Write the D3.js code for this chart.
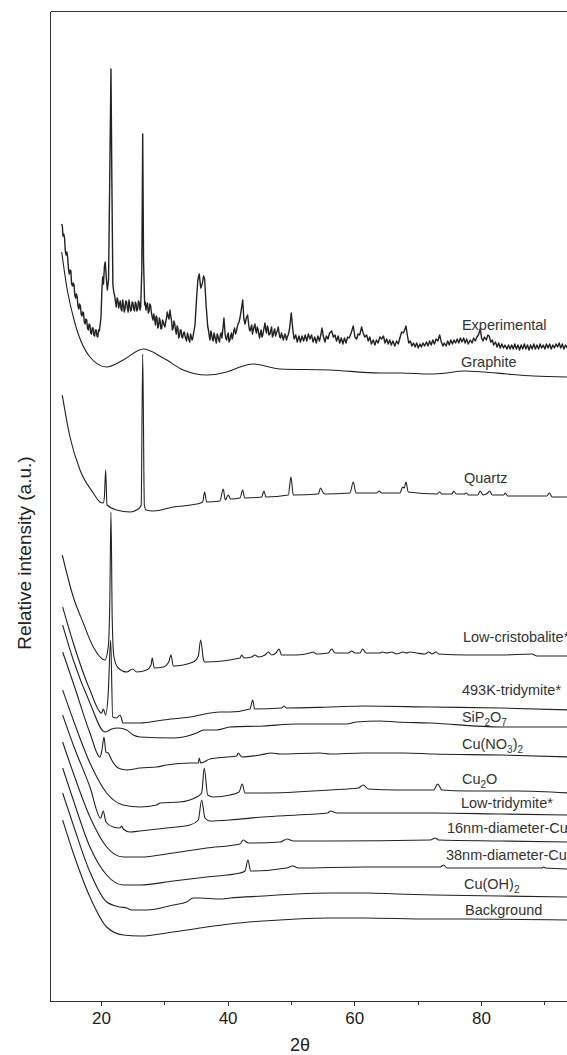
<!DOCTYPE html>
<html>
<head>
<meta charset="utf-8">
<script src="https://cdn.jsdelivr.net/npm/d3@7"></script>
<style>
    body { margin: 0; background: #fff; }
    svg { display: block; }
    .axis path, .axis line { stroke: #333; stroke-width: 1; shape-rendering: crispEdges; }
    .axis text { font-family: "Liberation Sans", Arial, sans-serif; font-size: 17px; fill: #222; }
    .trace { fill: none; stroke: #222; stroke-linejoin: round; }
    .label { font-family: "Liberation Sans", Arial, sans-serif; font-size: 14.5px; fill: #333; }
</style>
</head>
<body>
<script>

// 2theta (deg), relative intensity (a.u.)
const experimental = [
    [13.8,777],[13.9,775],[14.0,765],[14.12,767],[14.25,763],[14.37,750],[14.5,746],[14.62,749],[14.75,743],
    [14.87,732],[15.0,727],[15.12,731],[15.25,730],[15.37,717],[15.5,715],[15.62,718],[15.75,716],[15.87,706],
    [16.0,703],[16.12,707],[16.25,704],[16.37,695],[16.5,692],[16.62,697],[16.75,695],[16.87,687],[17.0,685],
    [17.12,689],[17.25,688],[17.37,679],[17.5,677],[17.62,682],[17.75,681],[17.87,673],[18.0,671],[18.12,677],
    [18.25,676],[18.37,668],[18.5,667],[18.62,673],[18.75,673],[18.87,666],[19.0,665],[19.12,671],[19.25,671],
    [19.37,665],[19.5,664],[19.62,671],[19.75,670],[20.0,683],[20.15,711],[20.27,724],[20.4,717],[20.55,735],
    [20.68,739],[20.85,723],[21.0,711],[21.2,721],[21.4,831],[21.58,932],[21.72,821],[21.88,716],[22.05,708],
    [22.17,705],[22.3,699],[22.42,694],[22.55,703],[22.67,701],[22.8,693],[22.92,697],[23.05,700],[23.17,692],
    [23.3,690],[23.42,701],[23.55,697],[23.67,689],[23.8,692],[23.92,700],[24.05,699],[24.17,693],[24.3,689],
    [24.42,701],[24.55,696],[24.67,690],[24.8,691],[24.92,699],[25.05,698],[25.17,692],[25.3,690],[25.42,699],
    [25.55,697],[25.67,690],[25.8,692],[25.92,700],[26.05,698],[26.16,691],[26.27,694],[26.45,731],[26.59,867],
    [26.72,741],[26.9,696],[27.0,699],[27.1,691],[27.22,695],[27.35,698],[27.47,688],[27.6,690],[27.72,697],
    [27.85,695],[27.97,688],[28.1,684],[28.22,681],[28.35,687],[28.47,682],[28.6,676],[28.72,685],[28.85,683],
    [28.97,673],[29.1,675],[29.22,683],[29.35,680],[29.47,672],[29.6,673],[29.72,681],[29.85,679],[29.97,676],
    [30.1,674],[30.22,679],[30.35,683],[30.47,689],[30.6,685],[30.75,682],[30.9,691],[31.02,685],[31.15,680],
    [31.27,671],[31.4,673],[31.52,680],[31.65,677],[31.77,671],[31.9,667],[32.02,675],[32.15,673],[32.27,663],
    [32.4,665],[32.52,671],[32.65,671],[32.77,664],[32.9,663],[33.02,668],[33.15,669],[33.27,665],[33.4,662],
    [33.52,660],[33.65,668],[33.77,665],[33.9,661],[34.02,659],[34.15,667],[34.27,664],[34.4,661],[34.5,663],
    [34.6,667],[34.85,676],[35.1,703],[35.3,721],[35.52,727],[35.75,713],[35.99,717],[36.2,725],[36.37,722],
    [36.6,696],[36.85,675],[36.97,671],[37.1,665],[37.22,661],[37.35,670],[37.47,667],[37.6,662],[37.72,660],
    [37.85,668],[37.97,665],[38.1,661],[38.22,658],[38.35,667],[38.47,665],[38.6,661],[38.72,659],[38.85,666],
    [38.97,668],[39.1,663],[39.3,675],[39.42,683],[39.6,667],[39.7,663],[39.85,661],[39.97,666],[40.1,668],
    [40.22,659],[40.37,661],[40.47,665],[40.6,668],[40.72,662],[40.85,665],[40.97,670],[41.1,673],[41.25,667],
    [41.4,670],[41.52,674],[41.65,677],[41.8,679],[41.95,683],[42.15,691],[42.38,701],[42.55,683],[42.74,677],
    [42.95,683],[43.16,686],[43.35,675],[43.45,671],[43.55,670],[43.67,673],[43.8,676],[43.92,667],[44.05,671],
    [44.17,674],[44.32,677],[44.42,671],[44.55,668],[44.67,674],[44.8,672],[44.92,667],[45.05,663],[45.17,668],
    [45.3,671],[45.42,664],[45.55,666],[45.72,672],[45.9,678],[46.02,671],[46.15,668],[46.27,675],[46.4,673],
    [46.52,666],[46.69,667],[46.82,671],[46.95,674],[47.07,664],[47.2,666],[47.32,670],[47.45,672],[47.57,665],
    [47.7,668],[47.85,670],[48.0,674],[48.12,668],[48.25,664],[48.37,663],[48.5,668],[48.65,665],[48.79,661],
    [48.92,664],[49.05,667],[49.17,665],[49.3,661],[49.42,664],[49.55,666],[49.67,669],[49.8,673],[50.05,688],
    [50.3,671],[50.5,662],[50.75,666],[51.0,659],[51.25,665],[51.5,659],[51.75,665],[52.0,660],[52.25,666],
    [52.5,660],[52.75,667],[53.0,662],[53.25,666],[53.5,659],[53.75,664],[54.0,658],[54.25,665],[54.5,660],
    [54.75,667],[54.9,673],[55.1,665],[55.37,659],[55.6,665],[55.85,662],[56.1,668],[56.43,670],[56.7,664],
    [56.95,666],[57.2,660],[57.45,665],[57.7,658],[57.95,663],[58.2,657],[58.45,663],[58.7,658],[58.95,664],
    [59.2,663],[59.5,668],[59.84,675],[60.1,664],[60.37,662],[60.6,667],[60.85,666],[61.16,674],[61.4,668],
    [61.65,664],[61.95,666],[62.2,660],[62.45,664],[62.7,657],[62.99,661],[63.25,656],[63.5,661],[63.75,658],
    [64.05,664],[64.32,662],[64.6,665],[64.85,658],[65.1,662],[65.36,657],[65.6,661],[65.85,656],[66.1,660],
    [66.4,655],[66.69,660],[66.95,657],[67.2,663],[67.48,669],[67.75,668],[67.95,671],[68.16,675],[68.4,665],
    [68.6,658],[68.85,660],[69.1,655],[69.35,658],[69.6,654],[69.85,658],[70.1,653],[70.37,657],[70.6,654],
    [70.85,658],[71.1,655],[71.4,659],[71.65,655],[71.9,660],[72.15,656],[72.4,661],[72.65,657],[72.9,662],
    [73.2,660],[73.48,666],[73.7,660],[74.0,655],[74.21,658],[74.5,655],[74.75,660],[75.0,656],[75.25,661],
    [75.5,657],[75.75,661],[76.0,658],[76.25,662],[76.5,658],[76.75,663],[77.0,659],[77.27,663],[77.5,658],
    [77.75,662],[78.0,657],[78.32,661],[78.6,658],[78.85,663],[79.1,660],[79.37,664],[79.6,666],[79.89,672],
    [80.1,663],[80.32,660],[80.55,664],[80.85,661],[81.1,666],[81.3,665],[81.55,659],[81.8,661],[82.0,656],
    [82.3,659],[82.55,654],[82.8,658],[83.05,653],[83.3,657],[83.55,653],[83.8,656],[84.1,652],[84.35,656],
    [84.6,652],[84.85,656],[85.1,652],[85.35,657],[85.6,652],[85.85,656],[86.1,651],[86.35,656],[86.6,652],
    [86.85,657],[87.1,652],[87.35,656],[87.6,651],[87.85,656],[88.1,652],[88.35,657],[88.6,652],[88.85,656],
    [89.1,652],[89.35,657],[89.6,653],[89.85,656],[90.1,652],[90.35,657],[90.6,653],[90.85,657],[91.1,652],
    [91.35,656],[91.6,653],[91.85,657],[92.1,654],[92.35,658],[92.6,653],[92.85,657],[93.1,652],[93.35,656],
    [93.6,653],[93.85,656],[94.1,653]
];

const graphite = [
    [13.8,749],[14.6,714],[15.63,684],[18.26,644],[20.9,634],[23.52,641],[26.68,652],[29.84,643],[33.0,631],
    [36.69,626],[39.85,629],[41.95,634],[44.05,637],[48.27,632],[56.16,631],[64.06,628],[67.26,628],[71.95,627],
    [74.64,628],[77.27,630],[80.43,629],[84.11,627],[88.32,625],[94,624]
];

const quartz = [
    [13.89,606],[15.11,564],[16.69,531],[18.79,508],[19.84,499],[20.37,498],[20.55,505],[20.74,531],[20.95,496],
    [22.48,491],[24.58,489],[25.89,492],[26.35,496],[26.59,647],[26.85,496],[27.11,491],[28.26,490],[31.42,494],
    [35.11,497],[36.06,499],[36.37,509],[36.69,499],[38.79,500],[39.31,512],[39.63,501],[40.1,506],[40.48,502],
    [41.95,503],[42.38,511],[42.69,503],[45.38,504],[45.74,510],[46.05,504],[49.58,506],[50.0,524],[50.37,506],
    [54.31,507],[54.69,513],[55.01,509],[55.37,507],[59.32,508],[59.84,519],[60.27,508],[63.53,508],[63.94,510],
    [64.32,508],[67.21,508],[67.64,514],[67.9,513],[68.16,519],[68.52,509],[73.06,507],[73.48,509],[73.85,507],
    [75.42,507],[75.69,510],[76.1,507],[77.37,507],[77.68,508],[78.06,506],[79.48,506],[79.89,510],[80.32,506],
    [81.06,508],[81.38,510],[81.79,506],[83.59,506],[83.84,508],[84.22,505],[90.42,505],[90.79,508],[91.26,504],
    [94,504]
];

const lowCristobalite = [
    [13.89,446],[15.63,404],[17.21,378],[18.79,354],[20.63,341],[21.15,354],[21.4,401],[21.58,489],[21.78,381],
    [22.05,344],[22.73,333],[24.06,329],[25.01,332],[25.64,329],[27.22,331],[27.9,336],[28.1,343],[28.42,333],
    [29.84,334],[30.7,339],[31.05,346],[31.42,335],[34.58,339],[35.37,345],[35.74,361],[36.2,341],[36.42,339],
    [41.95,343],[42.22,346],[42.58,343],[43.8,344],[44.32,346],[44.84,344],[45.9,346],[46.42,349],[46.96,346],
    [47.63,348],[48.11,352],[48.53,346],[50.9,346],[53.0,348],[53.52,349],[54.06,347],[55.89,348],[56.43,352],
    [56.95,348],[59.05,348],[59.59,350],[60.11,348],[60.9,348],[61.32,352],[61.85,348],[64.06,348],[64.42,349],
    [65.11,348],[65.9,349],[66.69,347],[67.74,349],[68.27,348],[68.79,349],[69.85,348],[71.16,347],[71.74,349],
    [72.27,347],[72.9,349],[73.33,347],[77.79,346],[83.05,346],[88.06,347],[88.85,345],[94,345]
];

const tridymite493K = [
    [13.95,394],[15.63,358],[18.26,311],[20.11,288],[20.37,292],[20.74,286],[21.15,308],[21.53,361],[21.85,284],
    [22.48,283],[23.0,286],[23.52,278],[26.16,278],[29.84,281],[34.05,284],[38.79,289],[40.37,289],[43.53,292],
    [43.96,301],[44.27,292],[48.53,293],[48.9,295],[49.32,293],[56.16,294],[61.42,295],[71.95,294],[83.05,293],
    [94,291]
];

const siP2O7 = [
    [13.95,376],[15.63,341],[18.26,298],[20.63,269],[21.69,272],[22.73,273],[24.06,271],[25.1,266],[26.16,264],
    [31.42,263],[35.11,268],[36.16,271],[38.27,271],[40.37,274],[45.63,275],[50.9,277],[58.8,277],[60.37,279],
    [64.06,280],[66.69,279],[71.95,278],[83.05,274],[94,274]
];

const cuNO32 = [
    [13.95,349],[15.63,318],[18.26,268],[19.84,244],[20.16,251],[20.48,264],[20.78,249],[21.15,248],[21.69,241],
    [22.73,233],[24.06,231],[26.16,233],[28.8,234],[30.37,236],[34.05,238],[35.37,238],[35.52,243],[35.74,238],
    [37.21,242],[39.85,244],[41.43,245],[41.68,248],[42.22,244],[45.11,246],[46.96,248],[48.27,247],[54.58,248],
    [56.16,247],[61.42,248],[67.74,248],[72.53,247],[83.05,246],[94,244]
];

const cu2O = [
    [13.95,311],[15.63,281],[18.26,238],[20.9,208],[23.52,196],[26.16,194],[28.8,196],[29.32,198],[32.47,199],
    [35.11,204],[35.9,208],[36.31,233],[36.85,206],[37.74,204],[40.37,206],[41.8,209],[42.31,217],[42.74,208],
    [45.63,208],[56.16,211],[60.63,213],[61.42,216],[62.21,212],[66.69,211],[72.53,211],[73.17,217],[73.85,211],
    [77.79,210],[85.69,210],[94,208]
];

const lowTridymite = [
    [13.95,286],[15.63,256],[18.26,214],[19.95,183],[20.37,190],[20.78,179],[21.94,174],[23.0,173],[23.27,175],
    [23.52,172],[24.58,169],[26.16,170],[30.37,173],[34.05,176],[35.37,181],[35.9,201],[36.42,183],[37.21,180],
    [40.37,181],[45.63,184],[50.9,186],[55.8,188],[56.27,190],[57.22,188],[61.42,188],[72.53,188],[83.05,187],
    [94,186]
];

const cu16nm = [
    [13.95,259],[15.63,228],[18.26,184],[20.9,154],[23.52,144],[26.16,144],[31.42,148],[36.69,153],[41.95,157],
    [42.47,161],[43.26,158],[48.27,159],[49.42,162],[50.37,160],[56.16,160],[72.0,161],[72.79,163],[73.3,161],
    [83.05,160],[94,159]
];

const cu38nm = [
    [13.95,233],[15.63,201],[18.26,154],[20.9,126],[23.52,116],[26.16,116],[31.42,120],[36.69,124],[41.95,128],
    [42.74,130],[43.21,141],[43.64,130],[49.32,133],[50.27,135],[51.16,133],[61.42,134],[73.58,134],[74.11,136],
    [74.64,133],[89.64,133],[89.9,134],[90.2,133],[94,132]
];

const cuOH2 = [
    [13.95,208],[15.63,176],[18.26,129],[20.9,99],[23.0,94],[24.06,93],[24.85,91],[27.22,91],[31.42,96],
    [33.53,99],[34.58,103],[35.63,103],[38.79,102],[40.37,103],[45.63,105],[50.9,107],[56.16,108],[61.95,108],
    [66.69,107],[72.53,106],[83.05,105],[94,104]
];

const background = [
    [13.95,181],[15.63,148],[18.26,104],[20.9,74],[23.52,66],[26.16,65],[31.42,69],[36.69,74],[40.37,77],
    [45.63,80],[50.9,82],[56.16,83],[61.42,83],[71.95,82],[77.79,82],[94,81]
];

// names in drawing order, as [text, subscript] parts
const names = [
    [["Experimental"]], [["Graphite"]], [["Quartz"]], [["Low-cristobalite*"]], [["493K-tridymite*"]],
    [["SiP"], ["2", 1], ["O"], ["7", 1]], [["Cu(NO"], ["3", 1], [")"], ["2", 1]], [["Cu"], ["2", 1], ["O"]],
    [["Low-tridymite*"]], [["16nm-diameter-Cu"]], [["38nm-diameter-Cu"]], [["Cu(OH)"], ["2", 1]], [["Background"]]
];
// where each name sits (2theta, intensity)
const nameAt = [
    [77.0,671],[76.85,634],[77.32,518],[77.16,359],[77.0,306],[77.0,279],[77.0,252],[77.0,217],
    [76.85,193],[74.64,168],[74.48,141],[77.32,112],[77.48,86]
];

const majorTicks = [20, 40, 60, 80];
const minorTicks = [30, 50, 70, 90];

const traces = [experimental, graphite, quartz, lowCristobalite, tridymite493K, siP2O7, cuNO32,
    cu2O, lowTridymite, cu16nm, cu38nm, cuOH2, background];

let width = 567, height = 1055;

let svg = d3.select("body").append("svg")
    .attr("width", width)
    .attr("height", height);

// scales
let x = d3.scaleLinear().domain([12, 94]).range([50.3, 569.6]);
let y = d3.scaleLinear().domain([0, 990]).range([1001, 11]);

let line = d3.line()
    .x(function(d) { return x(d[0]); })
    .y(function(d) { return y(d[1]); });

// the patterns - measured one is noisy, so straight segments there
svg.selectAll(".trace")
    .data(traces)
    .enter()
    .append("path")
    .attr("class", "trace")
    .attr("d", function(d, i) { return line.curve(i === 0 ? d3.curveLinear : d3.curveMonotoneX)(d); })
    .attr("stroke-width", function(d, i) { return i === 0 ? 1.4 : 1.1; });

// names next to each pattern
let labels = svg.selectAll(".label")
    .data(names)
    .enter()
    .append("text")
    .attr("class", "label")
    .attr("x", function(d, i) { return x(nameAt[i][0]); })
    .attr("y", function(d, i) { return y(nameAt[i][1]); });

labels.selectAll("tspan")
    .data(function(d) { return d; })
    .enter()
    .append("tspan")
    .text(function(d) { return d[0]; })
    .attr("font-size", function(d) { return d[1] ? "10px" : null; })
    .attr("dy", function(d, i, nodes) {
        let prev = i > 0 ? d3.select(nodes[i - 1]).datum()[1] : 0;
        if (d[1] && !prev) return 4;
        if (!d[1] && prev) return -4;
        return 0;
    });

// bottom axis, major + minor ticks
svg.append("g")
    .attr("class", "axis")
    .attr("transform", "translate(0," + y(0) + ")")
    .call(d3.axisBottom(x).tickValues(majorTicks).tickSize(5).tickSizeOuter(0).tickPadding(6));

svg.append("g")
    .attr("class", "axis minor")
    .attr("transform", "translate(0," + y(0) + ")")
    .call(d3.axisBottom(x).tickValues(minorTicks).tickSize(3.5).tickFormat("").tickSizeOuter(0));

// left and top frame
svg.append("g")
    .attr("class", "axis")
    .attr("transform", "translate(" + x(12) + ",0)")
    .call(d3.axisLeft(y).tickValues([]).tickSizeOuter(0));

svg.append("g")
    .attr("class", "axis")
    .attr("transform", "translate(0," + y(990) + ")")
    .call(d3.axisTop(x).tickValues([]).tickSizeOuter(0));

// axis titles
svg.append("text")
    .attr("x", 300)
    .attr("y", 1051)
    .attr("text-anchor", "middle")
    .attr("font-family", "Liberation Sans, Arial, sans-serif")
    .attr("font-size", "18px")
    .attr("fill", "#222")
    .text("2θ");

svg.append("text")
    .attr("transform", "translate(31,553)rotate(-90)")
    .attr("text-anchor", "middle")
    .attr("font-family", "Liberation Sans, Arial, sans-serif")
    .attr("font-size", "19px")
    .attr("fill", "#222")
    .text("Relative intensity (a.u.)");

</script>
</body>
</html>
